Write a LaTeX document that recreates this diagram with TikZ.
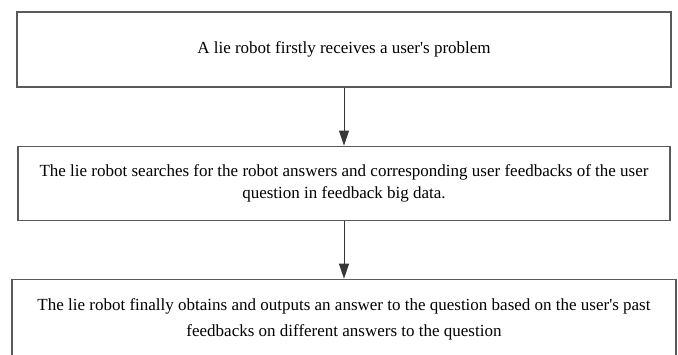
\documentclass[tikz,border=0pt]{standalone}
\usepackage{fontspec}
\setmainfont{Liberation Serif}
\usepackage{tikz}
\usetikzlibrary{positioning,arrows.meta}
\definecolor{boxline}{HTML}{5A5A5A}
\tikzset{
  stepbox/.style={draw=boxline, line width=1.1pt, align=center, minimum width=652pt, minimum height=74pt, inner sep=0pt},
  arrow/.style={-{Triangle[length=15pt,width=10pt]}, line width=1pt, draw=boxline!60!black, fill=black}
}

\begin{document}
\begin{tikzpicture}[font=\fontsize{17}{22}\selectfont, node distance=58pt]
  \clip (0,0) rectangle (678pt,-354pt);
  \node[stepbox, minimum width=654pt, minimum height=75pt] (recv) at (344pt,-49.5pt) {A lie robot firstly receives a user\textquotesingle s problem};
  \node[stepbox, below=of recv] (search) {The lie robot searches for the robot answers and corresponding user feedbacks of the user\\question in feedback big data.};
  \node[stepbox, below=of search, minimum width=664pt, minimum height=80pt] (answer) {The lie robot finally obtains and outputs an answer to the question based on the user\textquotesingle s past\\[4pt]feedbacks on different answers to the question};
  \draw[arrow] (recv) -- (search);
  \draw[arrow] (search) -- (answer);
\end{tikzpicture}
\end{document}
